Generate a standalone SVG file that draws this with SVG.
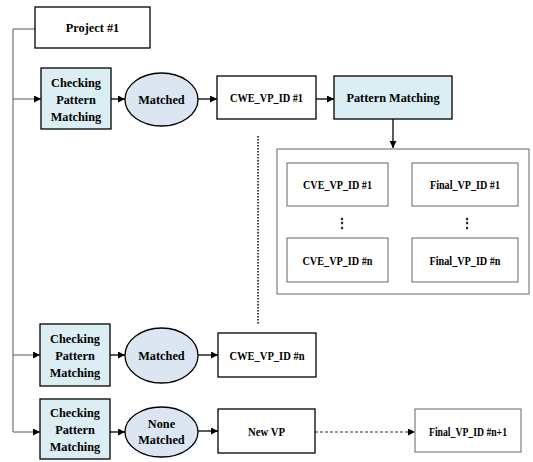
<svg xmlns="http://www.w3.org/2000/svg" width="533" height="462" viewBox="0 0 533 462">
<style>
text{font-family:"Liberation Serif","Times New Roman",serif;font-weight:bold;font-size:12.3px;fill:#000;text-anchor:middle}
.box{fill:#fff;stroke:#000;stroke-width:1.3}
.chk{fill:#dbeef3;stroke:#000;stroke-width:1.3}
.ell{fill:#dce6f2;stroke:#000;stroke-width:1.3}
.gbox{fill:#fff;stroke:#666;stroke-width:1}
.ln{stroke:#555;stroke-width:1;fill:none}
.ar{stroke:#000;stroke-width:1.3;fill:none}
.da{stroke:#000;stroke-width:1;stroke-dasharray:3,2;fill:none}
.sm{font-size:12px}
</style>
<defs>
<marker id="ah" viewBox="0 0 10 10" refX="10" refY="5" markerWidth="7" markerHeight="7" markerUnits="userSpaceOnUse" orient="auto"><path d="M0,0L10,5L0,10z" fill="#000"/></marker>
</defs>
<g id="connectors">
<path class="ln" d="M35,29H13V432"/>
<path class="ln" d="M13,99H41" marker-end="url(#ah)"/>
<path class="ln" d="M13,355H40" marker-end="url(#ah)"/>
<path class="ln" d="M13,432H40" marker-end="url(#ah)"/>
<path class="ar" d="M111,99H125" marker-end="url(#ah)"/>
<path class="ar" d="M198,99H217" marker-end="url(#ah)"/>
<path class="ar" d="M316,99H334" marker-end="url(#ah)"/>
<path class="ar" d="M393,119V148" marker-end="url(#ah)"/>
<path class="ar" d="M110,355H125" marker-end="url(#ah)"/>
<path class="ar" d="M198,355H218" marker-end="url(#ah)"/>
<path class="ar" d="M110,432H125" marker-end="url(#ah)"/>
<path class="ar" d="M198,431H218" marker-end="url(#ah)"/>
<path class="da" d="M388,185H412" marker-end="url(#ah)"/>
<path class="da" d="M388,260H412" marker-end="url(#ah)"/>
<path class="da" style="stroke:#333" d="M315,432H415" marker-end="url(#ah)"/>
<path d="M258,136V324" stroke="#000" stroke-width="1.5" stroke-dasharray="1.5,1.5" fill="none"/>
</g>
<g id="project1"><rect class="box" x="35" y="7" width="115" height="41"/><text x="92.5" y="32">Project #1</text></g>
<g id="check1"><rect class="chk" x="41" y="68" width="70" height="61"/><text x="76" y="87">Checking</text><text x="76" y="104">Pattern</text><text x="76" y="121">Matching</text></g>
<g id="matched1"><ellipse class="ell" cx="161.5" cy="99.5" rx="36.5" ry="26.5"/><text x="161.5" y="104">Matched</text></g>
<g id="cwe1"><rect class="box" x="217" y="76" width="99" height="43"/><text x="266.5" y="102" textLength="73" lengthAdjust="spacingAndGlyphs">CWE_VP_ID #1</text></g>
<g id="pattern"><rect class="chk" x="334" y="76" width="118" height="43"/><text x="393" y="102">Pattern Matching</text></g>
<g id="container"><rect class="gbox" x="277" y="149" width="252" height="145"/></g>
<g id="cve1"><rect class="gbox" x="287" y="163" width="101" height="43"/><text class="sm" x="337.5" y="189" textLength="69" lengthAdjust="spacingAndGlyphs">CVE_VP_ID #1</text></g>
<g id="final1"><rect class="gbox" x="412" y="163" width="106" height="43"/><text class="sm" x="465" y="189" textLength="70" lengthAdjust="spacingAndGlyphs">Final_VP_ID #1</text></g>
<g id="dots"><text x="342" y="227">⋮</text><text x="467" y="227">⋮</text></g>
<g id="cven"><rect class="gbox" x="287" y="238" width="101" height="44"/><text class="sm" x="337.5" y="265" textLength="70" lengthAdjust="spacingAndGlyphs">CVE_VP_ID #n</text></g>
<g id="finaln"><rect class="gbox" x="412" y="238" width="106" height="44"/><text class="sm" x="465" y="265" textLength="71" lengthAdjust="spacingAndGlyphs">Final_VP_ID #n</text></g>
<g id="check2"><rect class="chk" x="40" y="324" width="70" height="62"/><text x="75" y="343">Checking</text><text x="75" y="360">Pattern</text><text x="75" y="377">Matching</text></g>
<g id="matched2"><ellipse class="ell" cx="161.5" cy="355.5" rx="36.5" ry="27.5"/><text x="161.5" y="360">Matched</text></g>
<g id="cwen"><rect class="box" x="218" y="333" width="98" height="44"/><text x="267" y="360" textLength="75" lengthAdjust="spacingAndGlyphs">CWE_VP_ID #n</text></g>
<g id="check3"><rect class="chk" x="40" y="399" width="70" height="60"/><text x="75" y="417">Checking</text><text x="75" y="434">Pattern</text><text x="75" y="451">Matching</text></g>
<g id="nonematched"><ellipse class="ell" cx="161.5" cy="432" rx="36.5" ry="25"/><text x="161.5" y="428">None</text><text x="161.5" y="444">Matched</text></g>
<g id="newvp"><rect class="box" x="218" y="409" width="97" height="44"/><text x="266.5" y="436" textLength="37" lengthAdjust="spacingAndGlyphs">New VP</text></g>
<g id="finalnp1"><rect class="gbox" x="415" y="409" width="106" height="43"/><text class="sm" x="468" y="436" textLength="78" lengthAdjust="spacingAndGlyphs">Final_VP_ID #n+1</text></g>
</svg>
